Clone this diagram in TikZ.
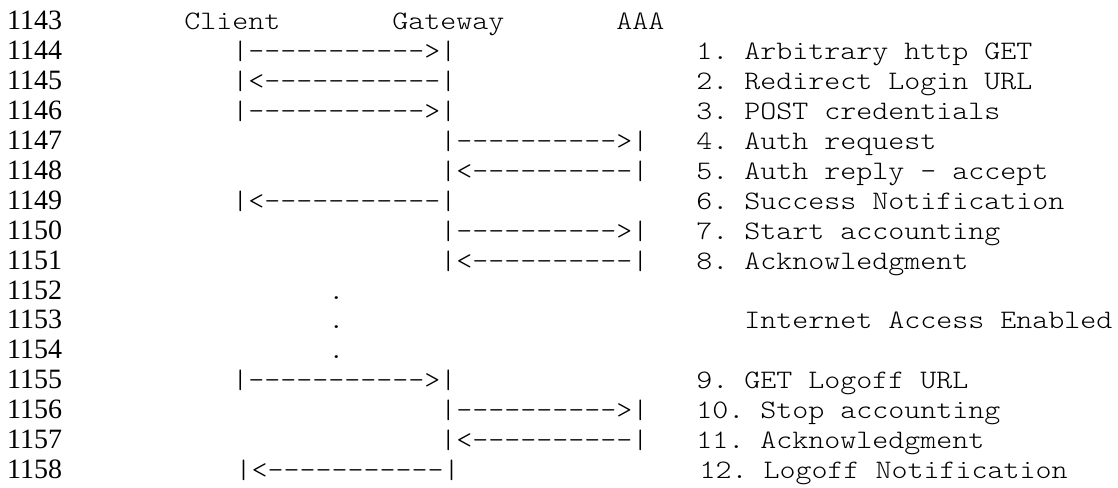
\documentclass[tikz,border=0pt]{standalone}
\usepackage{fontspec}
\setmainfont{Liberation Serif}
\setmonofont{lmmonolt10-regular.otf}[FakeStretch=1.143]
\begin{document}
\begin{tikzpicture}[x=8pt, y=-14.95pt,
  lnum/.style={anchor=base west, inner sep=0pt, font=\fontsize{14}{15}\selectfont},
  mono/.style={anchor=base west, inner sep=0pt, font=\fontsize{13.33}{15}\selectfont\ttfamily}]
  \useasboundingbox (0,0) rectangle (69.875,16.288);
  \foreach \n [count=\k] in {1143,...,1158}
    \node[lnum] (l\n) at (0.42,\k) {\n};
  \begin{scope}[xshift=92pt]
    \node[mono] (client)  at (0,1)  {Client};
    \node[mono] (gateway) at (13,1) {Gateway};
    \node[mono] (aaa)     at (27,1) {AAA};
    \node[mono] (a1)  at (3,2)  {|----------->|};
    \node[mono] (a2)  at (3,3)  {|<-----------|};
    \node[mono] (a3)  at (3,4)  {|----------->|};
    \node[mono] (a4)  at (16,5) {|---------->|};
    \node[mono] (a5)  at (16,6) {|<----------|};
    \node[mono] (a6)  at (3,7)  {|<-----------|};
    \node[mono] (a7)  at (16,8) {|---------->|};
    \node[mono] (a8)  at (16,9) {|<----------|};
    \node[mono] (d1)  at (9,10) {.};
    \node[mono] (d2)  at (9,11) {.};
    \node[mono] (d3)  at (9,12) {.};
    \node[mono] (a9)  at (3,13)  {|----------->|};
    \node[mono] (a10) at (16,14) {|---------->|};
    \node[mono] (a11) at (16,15) {|<----------|};
    \node[mono] (a12) at (3.2,16) {|<-----------|};
    \node[mono] (m1)  at (32,2)  {1. Arbitrary http GET};
    \node[mono] (m2)  at (32,3)  {2. Redirect Login URL};
    \node[mono] (m3)  at (32,4)  {3. POST credentials};
    \node[mono] (m4)  at (32,5)  {4. Auth request};
    \node[mono] (m5)  at (32,6)  {5. Auth reply - accept};
    \node[mono] (m6)  at (32,7)  {6. Success Notification};
    \node[mono] (m7)  at (32,8)  {7. Start accounting};
    \node[mono] (m8)  at (32,9)  {8. Acknowledgment};
    \node[mono] (inet) at (35,11) {Internet Access Enabled};
    \node[mono] (m9)  at (32,13) {9. GET Logoff URL};
    \node[mono] (m10) at (32,14) {10. Stop accounting};
    \node[mono] (m11) at (32,15) {11. Acknowledgment};
    \node[mono] (m12) at (32.2,16) {12. Logoff Notification};
  \end{scope}
\end{tikzpicture}
\end{document}
